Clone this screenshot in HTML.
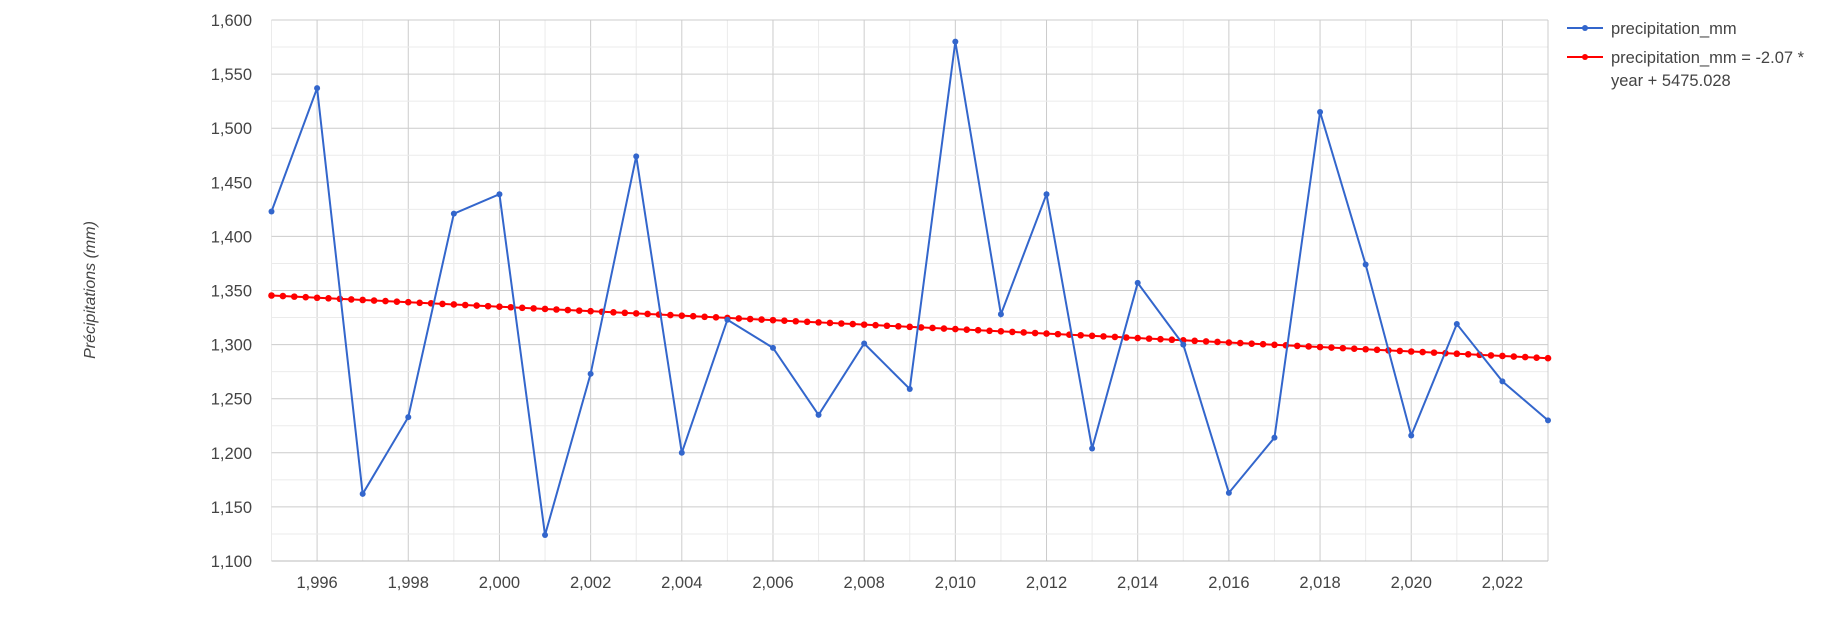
<!DOCTYPE html>
<html><head><meta charset="utf-8"><style>
body{margin:0;background:#fff;}
svg text{font-family:"Liberation Sans",Arial,sans-serif;fill:#444;}
</style></head><body>
<svg width="1843" height="621" id="c">
<g id="grid"></g>
<g id="axes"></g>
<g id="series"></g>
<text transform="translate(95,290) rotate(-90)" text-anchor="middle" font-size="16" font-style="italic" fill="#222">Précipitations (mm)</text>
<g>
<g>
<line x1="1567" y1="28" x2="1603" y2="28" stroke="#3366cc" stroke-width="2"/><circle cx="1585" cy="28" r="3" fill="#3366cc"/>
<text x="1611" y="34" font-size="16.5" fill="#222">precipitation_mm</text></g>
<g>
<line x1="1567" y1="57" x2="1603" y2="57" stroke="#ff0000" stroke-width="2"/><circle cx="1585" cy="57" r="3" fill="#ff0000"/>
<text x="1611" y="63" font-size="16.5" fill="#222">precipitation_mm = -2.07 *</text>
<text x="1611" y="86" font-size="16.5" fill="#222">year + 5475.028</text></g>
</g>
</svg>
<script>
const years=[1995,1996,1997,1998,1999,2000,2001,2002,2003,2004,2005,2006,2007,2008,2009,2010,2011,2012,2013,2014,2015,2016,2017,2018,2019,2020,2021,2022,2023];
const precip=[1423,1537,1162,1233,1421,1439,1124,1273,1474,1200,1323,1297,1235,1301,1259,1580,1328,1439,1204,1357,1300,1163,1214,1515,1374,1216,1319,1266,1230];
const slope=-2.07;
const intercept=5475.028;
const yTicks=[1100,1150,1200,1250,1300,1350,1400,1450,1500,1550,1600];
const xTicks=[1996,1998,2000,2002,2004,2006,2008,2010,2012,2014,2016,2018,2020,2022];
const X0=271.5,X1=1548,Y0=561,Y1=20,xmin=1995,xmax=2023,ymin=1100,ymax=1600;
const sx=v=>X0+(v-xmin)/(xmax-xmin)*(X1-X0);
const sy=v=>Y0-(v-ymin)/(ymax-ymin)*(Y0-Y1);
const NS='http://www.w3.org/2000/svg';
function mk(t,a,p){const e=document.createElementNS(NS,t);for(const k in a)e.setAttribute(k,a[k]);p.appendChild(e);return e;}
const g=document.getElementById('grid'),ax=document.getElementById('axes'),s=document.getElementById('series');
for(let y=xmin;y<=xmax;y++){const l=mk('line',{x1:sx(y),x2:sx(y),y1:Y1,y2:Y0,stroke:(y%2==0)?'#cccccc':'#ebebeb'},g);

}
for(let v=ymin;v<=ymax;v+=25){const l=mk('line',{x1:X0,x2:X1,y1:sy(v),y2:sy(v),stroke:(v%50==0)?'#cccccc':'#ebebeb'},g);

}
mk('line',{x1:X1,x2:X1,y1:Y1,y2:Y0,stroke:'#cccccc'},g);
yTicks.forEach(v=>{const t=mk('text',{x:252,y:sy(v)+6,'text-anchor':'end','font-size':'16.5'},ax);t.textContent=v.toLocaleString('en-US');

});
xTicks.forEach(v=>{const t=mk('text',{x:sx(v),y:588,'text-anchor':'middle','font-size':'16.5'},ax);t.textContent=v.toLocaleString('en-US');

});
mk('line',{x1:X0,x2:X1,y1:Y0,y2:Y0,stroke:'#bbbbbb'},ax);
const tp=[];for(let i=0;i<=(xmax-xmin)*4;i++){const x=xmin+i/4;tp.push([x,slope*x+intercept]);}
const tl=mk('polyline',{points:tp.map(p=>sx(p[0])+','+sy(p[1])).join(' '),fill:'none',stroke:'#ff0000','stroke-width':2},s);


tp.forEach(p=>{const c=mk('circle',{cx:sx(p[0]),cy:sy(p[1]),r:3.3,fill:'#ff0000'},s);

});
const pl=mk('polyline',{points:years.map((y,i)=>sx(y)+','+sy(precip[i])).join(' '),fill:'none',stroke:'#3366cc','stroke-width':2},s);


years.forEach((y,i)=>{const c=mk('circle',{cx:sx(y),cy:sy(precip[i]),r:3,fill:'#3366cc'},s);

});
</script>
</body></html>
